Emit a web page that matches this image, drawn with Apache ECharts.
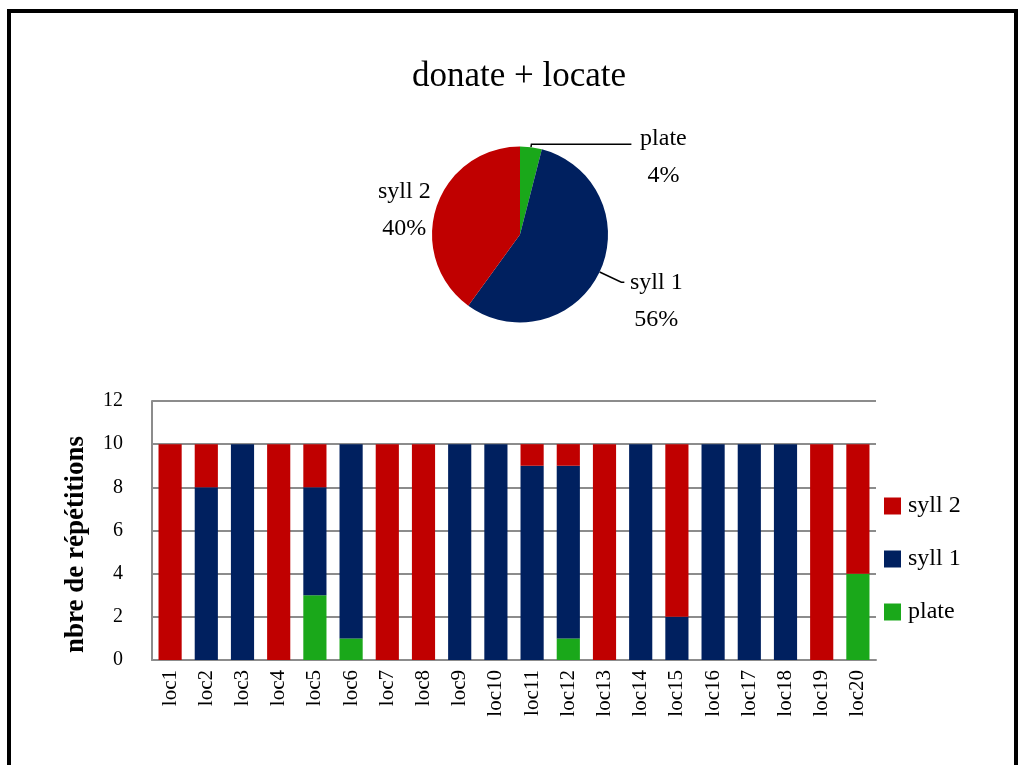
<!DOCTYPE html>
<html>
<head>
<meta charset="utf-8">
<script src="https://cdn.jsdelivr.net/npm/echarts@6/dist/echarts.min.js"></script>
<style>
html,body{margin:0;padding:0;background:#fff;overflow:hidden;}
#chart{width:1019px;height:765px;position:absolute;left:0;top:0;}
#frame{position:absolute;left:7px;top:9px;width:1011px;height:800px;border:4px solid #000;box-sizing:border-box;pointer-events:none;}
</style>
</head>
<body>
<div id="chart"></div>
<div id="frame"></div>
<script>
const titleText = 'donate + locate';
const categories = ['loc1','loc2','loc3','loc4','loc5','loc6','loc7','loc8','loc9','loc10','loc11','loc12','loc13','loc14','loc15','loc16','loc17','loc18','loc19','loc20'];
const plate = [0,0,0,0,3,1,0,0,0,0,0,1,0,0,0,0,0,0,0,4];
const syll1 = [0,8,10,0,5,9,0,0,10,10,9,8,0,10,2,10,10,10,0,0];
const syll2 = [10,2,0,10,2,0,10,10,0,0,1,1,10,0,8,0,0,0,10,6];
const pieNames = ['plate','syll 1','syll 2'];
const piePercents = [4, 56, 40];
const yTicks = [0, 2, 4, 6, 8, 10, 12];
const yAxisName = 'nbre de répétitions';

const C = {plate:'#1aa81a', syll1:'#00205f', syll2:'#c00000'};
const FONT = '"Liberation Serif", serif';

const chart = echarts.init(document.getElementById('chart'), null, {renderer:'canvas'});

const pieLabelCfg = [
  {labelLine:{length:3, length2:100}, label:{padding:[26,0,0,0]}},
  {labelLine:{length:24, length2:3}, label:{padding:[39,0,0,0]}},
  {labelLine:{show:false, length:0, length2:0}, label:{padding:[6,0,0,0]}}
];

const option = {
  backgroundColor:'#fff',
  animation:false,
  textStyle:{fontFamily:FONT},
  title:{
    text:titleText, left:514, top:54, textAlign:'center',
    textStyle:{fontFamily:FONT, fontSize:35, fontWeight:'normal', color:'#000'}
  },
  legend:{
    orient:'vertical', left:884, top:494, padding:0,
    itemWidth:17, itemHeight:17, itemGap:29,
    icon:'rect',
    data:['syll 2','syll 1','plate'],
    textStyle:{fontFamily:FONT, fontSize:24, color:'#000', padding:[0,0,0,2]}
  },
  grid:{left:152, right:143, top:401, bottom:105, containLabel:false},
  xAxis:{
    type:'category', data:categories,
    axisLine:{lineStyle:{color:'#8c8c8c', width:2}},
    axisTick:{show:false},
    axisLabel:{rotate:90, interval:0, fontFamily:FONT, fontSize:21, color:'#000', margin:10}
  },
  yAxis:{
    type:'value', min:yTicks[0], max:yTicks[yTicks.length-1], interval:2,
    name:yAxisName, nameLocation:'middle', nameGap:62, nameRotate:90,
    nameTextStyle:{fontFamily:FONT, fontSize:27, fontWeight:'bold', color:'#000', padding:[0,28,0,0]},
    axisLine:{show:true, lineStyle:{color:'#8c8c8c', width:2}},
    axisTick:{show:false},
    splitLine:{lineStyle:{color:'#8c8c8c', width:2}},
    axisLabel:{fontFamily:FONT, fontSize:20, color:'#000', margin:29, padding:[4,0,0,0]}
  },
  series:[
    {name:'plate', type:'bar', stack:'s', data:plate, barWidth:'64%', itemStyle:{color:C.plate}},
    {name:'syll 1', type:'bar', stack:'s', data:syll1, barWidth:'64%', itemStyle:{color:C.syll1}},
    {name:'syll 2', type:'bar', stack:'s', data:syll2, barWidth:'64%', itemStyle:{color:C.syll2}},
    {
      name:'pie', type:'pie', center:[520,234.5], radius:88, startAngle:90, clockwise:true,
      avoidLabelOverlap:false,
      label:{
        show:true, position:'outside', color:'#000',
        formatter:function(p){return '{a|'+p.name+'}\n{a|'+p.value+'%}';},
        rich:{a:{fontFamily:FONT, fontSize:24, width:54, align:'center', lineHeight:37, color:'#000'}}
      },
      labelLine:{lineStyle:{color:'#000', width:1.5}},
      itemStyle:{borderWidth:0},
      data:pieNames.map(function(n,i){
        return Object.assign({name:n, value:piePercents[i], itemStyle:{color:[C.plate,C.syll1,C.syll2][i]}}, pieLabelCfg[i]);
      })
    }
  ]
};
chart.setOption(option);
</script>
</body>
</html>
